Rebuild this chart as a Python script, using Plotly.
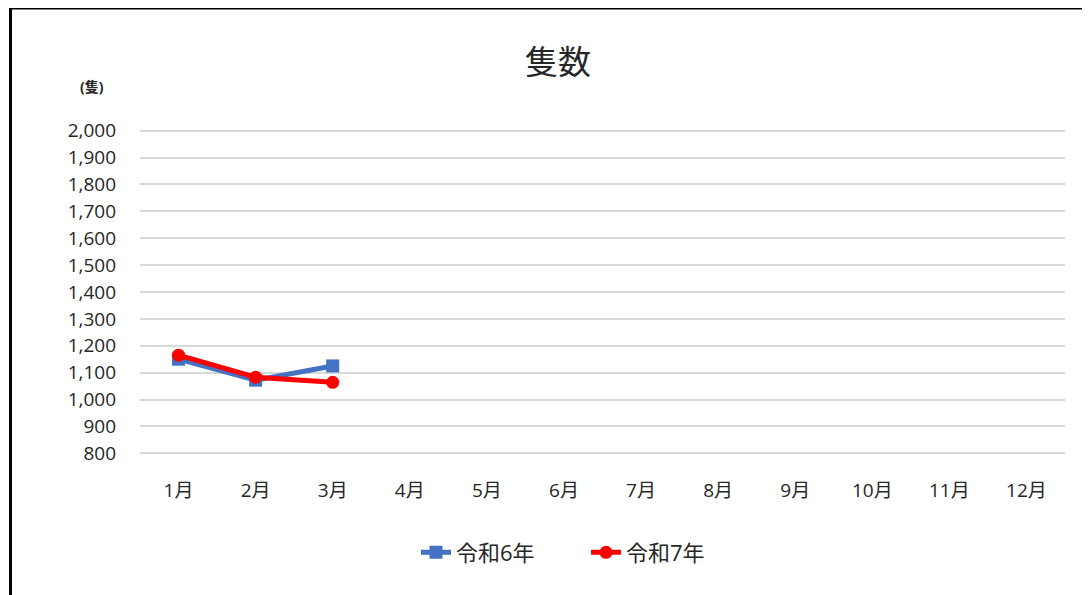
import plotly.graph_objects as go

months = ["1月", "2月", "3月", "4月", "5月", "6月", "7月", "8月", "9月", "10月", "11月", "12月"]
r6_values = [1150, 1072, 1125]
r7_values = [1165, 1083, 1064]
series_names = ["令和6年", "令和7年"]
y_ticks = list(range(800, 2001, 100))

FONT = "Open Sans, Noto Sans CJK JP"
CJK = "Noto Sans CJK JP"
OFF = 8  # page body margin offset

fig = go.Figure()
fig.add_trace(go.Scatter(
    x=months[:len(r6_values)], y=r6_values, name=series_names[0],
    mode="lines+markers",
    line=dict(color="#4472C4", width=5),
    marker=dict(symbol="square", size=13, color="#4472C4"),
))
fig.add_trace(go.Scatter(
    x=months[:len(r7_values)], y=r7_values, name=series_names[1],
    mode="lines+markers",
    line=dict(color="#FF0000", width=5),
    marker=dict(symbol="circle", size=13, color="#FF0000"),
))

W, H = 1090, 595
PAD = 10  # value padding so edge gridlines are drawn
unit_px = (453 - 131) / 1200
SL, SR = 140, 1065
ST = 131 - PAD * unit_px
SB = 453 + PAD * unit_px
L = SL - OFF
T = ST - OFF
R = W - (SR - OFF)
B = H - (SB - OFF)
pw, ph = W - L - R, H - T - B

def px(x):
    return (x - OFF - L) / pw

def py(y):
    return (H - B - (y - OFF)) / ph

fig.update_layout(
    width=W, height=H,
    margin=dict(l=L, r=R, t=T, b=B, autoexpand=False),
    paper_bgcolor="white", plot_bgcolor="white",
    font=dict(family=FONT, color="#262626", size=19),
    title=dict(text="隻数", x=px(558), xref="paper", xanchor="center",
               y=1 - (62 - OFF) / H, yanchor="middle",
               font=dict(size=33, color="#262626", family=CJK)),
    showlegend=True,
    legend=dict(orientation="h", x=px(586), xanchor="center", y=py(552), yanchor="middle",
                font=dict(size=22, color="#262626", family=FONT),
                tracegroupgap=0, entrywidth=125),
    xaxis=dict(categoryorder="array", categoryarray=months, tickvals=months,
               range=[-0.5, 11.5], showgrid=False, showline=False, zeroline=False,
               ticks="", ticklabelstandoff=int(round(24 - PAD * unit_px)), tickfont=dict(size=19)),
    yaxis=dict(range=[800 - PAD, 2000 + PAD], tickvals=y_ticks, tickformat=",d",
               showgrid=True, gridcolor="#D9D9D9", gridwidth=1.5,
               showline=False, zeroline=False, ticks="", ticklabelstandoff=23,
               tickfont=dict(size=19)),
    shapes=[dict(type="rect", xref="paper", yref="paper",
                 x0=px(10.5), x1=px(1300), y0=py(8.5), y1=py(800),
                 line=dict(color="black", width=3), fillcolor="rgba(0,0,0,0)", layer="above")],
    annotations=[dict(text="<b>(隻)</b>", xref="paper", yref="paper", x=px(92), y=py(87),
                      xanchor="center", yanchor="middle", showarrow=False,
                      font=dict(size=14, color="#262626", family=FONT))],
)

fig.write_html("out.html")
